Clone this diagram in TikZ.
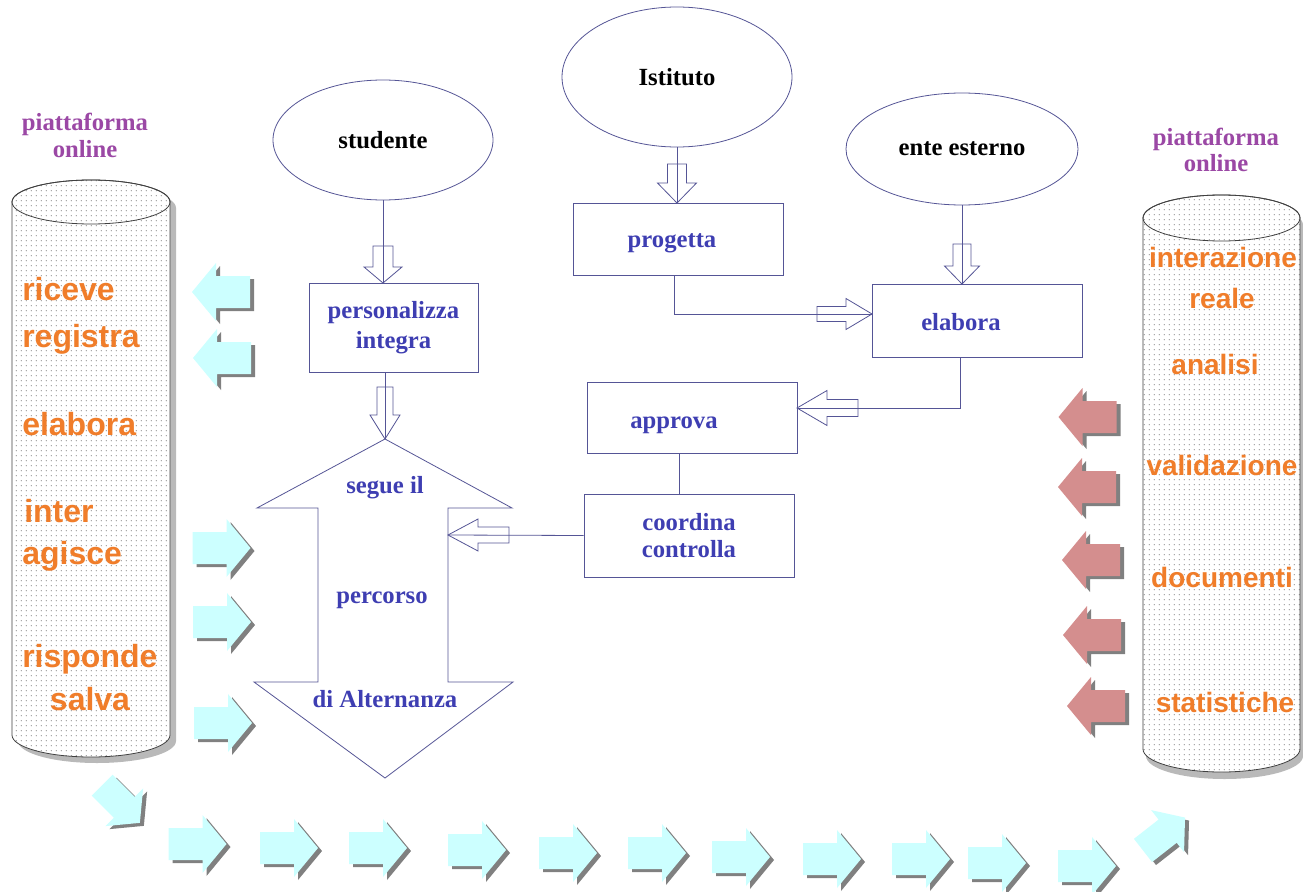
\documentclass[tikz,border=0pt]{standalone}
\usepackage{fontspec}
\setmainfont{Liberation Serif}
\setsansfont{Liberation Sans}
\usetikzlibrary{shapes.geometric,patterns}
\definecolor{linec}{RGB}{85,85,150}
\definecolor{bluet}{RGB}{62,62,178}
\definecolor{oranget}{RGB}{240,125,42}
\definecolor{purplet}{RGB}{155,72,165}
\definecolor{cyanar}{RGB}{204,255,255}
\definecolor{redar}{RGB}{212,142,142}
\definecolor{shadowc}{RGB}{128,128,128}
\definecolor{cylshadow}{RGB}{185,185,185}
\pgfdeclarepatternformonly{cyldots}{\pgfpointorigin}{\pgfqpoint{3.6pt}{3.6pt}}{\pgfqpoint{3.6pt}{3.6pt}}%
  {\pgfpathcircle{\pgfqpoint{1.8pt}{1.8pt}}{0.5pt}\pgfusepath{fill}}
% fat 3D arrow: x y angle scale colour
\newcommand\fatarrow[5]{%
  \fill[shadowc,shift={({#1+4},{#2+3})},rotate=#3,scale=#4]
    (-29,-16) -- (5,-16) -- (5,-29) -- (29,0) -- (5,29) -- (5,16) -- (-29,16) -- cycle;
  \fill[#5,shift={(#1,#2)},rotate=#3,scale=#4]
    (-29,-16) -- (5,-16) -- (5,-29) -- (29,0) -- (5,29) -- (5,16) -- (-29,16) -- cycle;}
% hollow block arrow pointing down: cx top base tip shaft-half head-half
\newcommand\hollowdown[6]{%
  \draw[conn] ({#1-#5},#2) -- ({#1+#5},#2) -- ({#1+#5},#3) -- ({#1+#6},#3) -- (#1,#4)
    -- ({#1-#6},#3) -- ({#1-#5},#3) -- cycle;}
% hollow horizontal block arrow: cy back base tip shaft-half head-half
\newcommand\hollowh[6]{%
  \draw[conn] (#2,{#1-#5}) -- (#3,{#1-#5}) -- (#3,{#1-#6}) -- (#4,#1) -- (#3,{#1+#6})
    -- (#3,{#1+#5}) -- (#2,{#1+#5}) -- cycle;}
\begin{document}
\begin{tikzpicture}[x=0.75pt,y=-0.75pt,
  conn/.style={draw=linec,line width=0.6pt},
  ell/.style={ellipse,draw=linec,line width=0.6pt,inner sep=0pt,text=black,
    font=\fontsize{18.5}{22}\selectfont\bfseries},
  boxn/.style={rectangle,draw=linec,line width=0.6pt,inner sep=0pt,text=bluet,align=center,
    font=\fontsize{18.5}{22.5}\selectfont\bfseries},
  bluelbl/.style={text=bluet,inner sep=0pt,font=\fontsize{18.5}{22}\selectfont\bfseries},
  orl/.style={text=oranget,inner sep=0pt,font=\fontsize{24}{28}\selectfont\sffamily\bfseries},
  orr/.style={text=oranget,inner sep=0pt,font=\fontsize{21}{25}\selectfont\sffamily\bfseries},
  purl/.style={text=purplet,inner sep=0pt,font=\fontsize{18.5}{21}\selectfont\bfseries},
  cylline/.style={draw=black!75,line width=0.6pt},
  cylfill/.style={pattern=cyldots,pattern color=gray!75}
]
\fill[white] (0,0) rectangle (1303,892);
\useasboundingbox (0,0) rectangle (1303,892);

% ---------- left cylinder ----------
\begin{scope}[shift={(6,6)}]
\fill[cylshadow] (12,202) -- (12,735) arc[start angle=180,end angle=0,x radius=79,y radius=22]
  -- (170,202) arc[start angle=0,end angle=-180,x radius=79,y radius=22] -- cycle;
\end{scope}
\fill[white] (12,202) -- (12,735) arc[start angle=180,end angle=0,x radius=79,y radius=22]
  -- (170,202) arc[start angle=0,end angle=-180,x radius=79,y radius=22] -- cycle;
\fill[cylfill] (12,202) -- (12,735) arc[start angle=180,end angle=0,x radius=79,y radius=22]
  -- (170,202) arc[start angle=0,end angle=-180,x radius=79,y radius=22] -- cycle;
\draw[cylline] (12,202) -- (12,735) arc[start angle=180,end angle=0,x radius=79,y radius=22]
  -- (170,202) arc[start angle=0,end angle=-180,x radius=79,y radius=22] -- cycle;
\draw[cylline] (91,202) ellipse[x radius=79,y radius=22];

% ---------- right cylinder ----------
\begin{scope}[shift={(3,7)}]
\fill[cylshadow] (1143,218) -- (1143,749) arc[start angle=180,end angle=0,x radius=78.5,y radius=23]
  -- (1300,218) arc[start angle=0,end angle=-180,x radius=78.5,y radius=23] -- cycle;
\end{scope}
\fill[white] (1143,218) -- (1143,749) arc[start angle=180,end angle=0,x radius=78.5,y radius=23]
  -- (1300,218) arc[start angle=0,end angle=-180,x radius=78.5,y radius=23] -- cycle;
\fill[cylfill] (1143,218) -- (1143,749) arc[start angle=180,end angle=0,x radius=78.5,y radius=23]
  -- (1300,218) arc[start angle=0,end angle=-180,x radius=78.5,y radius=23] -- cycle;
\draw[cylline] (1143,218) -- (1143,749) arc[start angle=180,end angle=0,x radius=78.5,y radius=23]
  -- (1300,218) arc[start angle=0,end angle=-180,x radius=78.5,y radius=23] -- cycle;
\draw[cylline] (1221.5,218) ellipse[x radius=78.5,y radius=23];

% ---------- labels on cylinders ----------
\node[purl,anchor=base] (pl1) at (85,130) {piattaforma};
\node[purl,anchor=base] (pl2) at (85,157) {online};
\node[purl,anchor=base] (pr1) at (1216,145) {piattaforma};
\node[purl,anchor=base] (pr2) at (1216,171) {online};

\node[orl,anchor=base west] (l1) at (22,300) {riceve};
\node[orl,anchor=base west] (l2) at (22,347) {registra};
\node[orl,anchor=base west] (l3) at (22,435) {elabora};
\node[orl,anchor=base west] (l4) at (24,522) {inter};
\node[orl,anchor=base west] (l5) at (22,564) {agisce};
\node[orl,anchor=base west] (l6) at (22,667) {risponde};
\node[orl,anchor=base] (l7) at (90,710) {salva};

\node[orr,anchor=base] (r1) at (1223,267) {interazione};
\node[orr,anchor=base] (r2) at (1222,308) {reale};
\node[orr,anchor=base] (r3) at (1215,374) {analisi};
\node[orr,anchor=base] (r4) at (1222,475) {validazione};
\node[orr,anchor=base] (r5) at (1222,587) {documenti};
\node[orr,anchor=base] (r6) at (1225,712) {statistiche};

% ---------- fat arrows ----------
\fatarrow{221}{292}{180}{1}{cyanar}
\fatarrow{222}{358}{180}{1}{cyanar}
\fatarrow{221.5}{548}{0}{1}{cyanar}
\fatarrow{222}{622}{0}{1}{cyanar}
\fatarrow{223}{723}{0}{1}{cyanar}
\fatarrow{121}{804}{-45}{0.92}{cyanar}
\fatarrow{197.5}{844}{0}{1}{cyanar}
\fatarrow{289}{848}{0}{1}{cyanar}
\fatarrow{378}{848}{0}{1}{cyanar}
\fatarrow{477}{850}{0}{1}{cyanar}
\fatarrow{568}{853}{0}{1}{cyanar}
\fatarrow{657}{853}{0}{1}{cyanar}
\fatarrow{741}{857}{0}{1}{cyanar}
\fatarrow{832}{859}{0}{1}{cyanar}
\fatarrow{921}{859}{0}{1}{cyanar}
\fatarrow{997}{863}{0}{1}{cyanar}
\fatarrow{1087}{866}{0}{1}{cyanar}
\fatarrow{1164}{834}{38}{0.92}{cyanar}
\fatarrow{1087.5}{417}{180}{1}{redar}
\fatarrow{1087}{487}{180}{1}{redar}
\fatarrow{1091}{560}{180}{1}{redar}
\fatarrow{1092}{635}{180}{1}{redar}
\fatarrow{1096}{706}{180}{1}{redar}

% ---------- ellipses ----------
\node[ell,minimum width=230*0.75pt,minimum height=140*0.75pt] (ist) at (677,77) {Istituto};
\node[ell,minimum width=220*0.75pt,minimum height=120*0.75pt] (stud) at (383,140) {studente};
\node[ell,minimum width=232*0.75pt,minimum height=112*0.75pt] (ente) at (962,149) {ente esterno};

% ---------- boxes ----------
\node[boxn,minimum width=210*0.75pt,minimum height=72*0.75pt] (prog) at (678,239)
  {\raisebox{-3pt}[\height][\depth]{progetta}\kern9pt};
\node[boxn,minimum width=210*0.75pt,minimum height=73*0.75pt] (elab) at (977,320.5)
  {\raisebox{-1.5pt}[\height][\depth]{elabora}\kern24pt};
\node[boxn,minimum width=210*0.75pt,minimum height=71*0.75pt] (appr) at (692,417.5)
  {\raisebox{-5.5pt}[\height][\depth]{approva}\kern27pt};
\node[boxn,minimum width=210*0.75pt,minimum height=83*0.75pt,
  font=\fontsize{18.5}{20.3}\selectfont\bfseries] (coord) at (689,535.5) {coordina\\controlla};
\node[boxn,minimum width=169*0.75pt,minimum height=89*0.75pt] (pers) at (393.5,327.5) {personalizza\\integra};

% ---------- big double arrow ----------
\draw[conn] (385,439) -- (512,508) -- (448,508) -- (448,682) -- (513,682) -- (385,778)
  -- (254,682) -- (318,682) -- (318,508) -- (257,508) -- cycle;
\node[bluelbl,anchor=base] (seg) at (385,493) {segue il};
\node[bluelbl,anchor=base] (perc) at (382,603) {percorso};
\node[bluelbl,anchor=base] (alt) at (385,707) {di Alternanza};

% ---------- connectors ----------
\coordinate (bigtop) at (385,439);
\coordinate (bigR) at (448,535);
\coordinate (j1) at (674,314);
\coordinate (j2) at (960,408);
\coordinate (j3) at (679,453);
\draw[conn] (stud.south) -- (stud.south |- pers.north);
\draw[conn] (bigtop |- pers.south) -- (bigtop);
\draw[conn] (ist.south) -- (ist.south |- prog.north);
\draw[conn] (ente.south) -- (ente.south |- elab.north);
\draw[conn] (j1 |- prog.south) -- (j1) -- (j1 -| elab.west);
\draw[conn] (j2 |- elab.south) -- (j2) -- (j2 -| appr.east);
\draw[conn] (j3 |- appr.south) -- (j3 |- coord.north);
\draw[conn] (coord.west) -- (bigR);

\hollowdown{383}{246}{267}{283}{10}{19}
\hollowdown{385}{387}{415}{439}{8}{15}
\hollowdown{677}{164}{183}{203}{9.5}{19.5}
\hollowdown{962}{244}{266}{284}{9}{17.5}
\hollowh{314}{817}{846}{872}{7.5}{15.5}
\hollowh{408}{858}{827}{797}{8.5}{17.5}
\hollowh{535}{509}{478}{448}{8}{16}
\end{tikzpicture}
\end{document}
